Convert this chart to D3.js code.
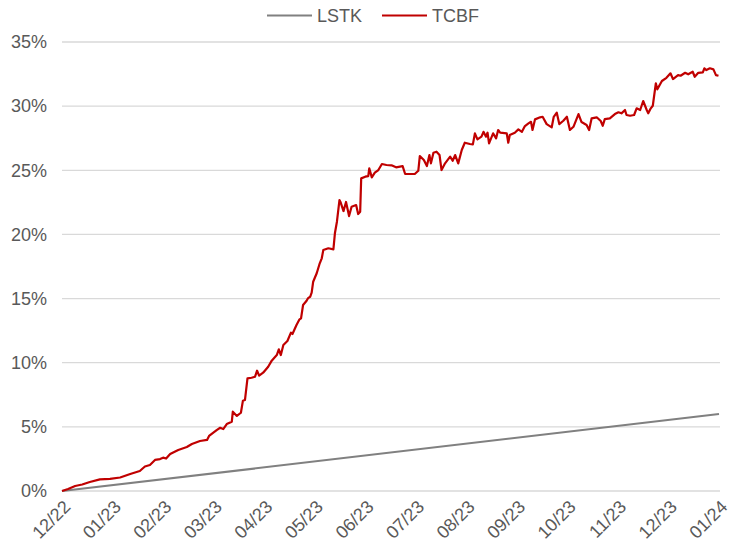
<!DOCTYPE html>
<html>
<head>
<meta charset="utf-8">
<script src="https://cdn.jsdelivr.net/npm/d3@7"></script>
<style>
  html, body { margin: 0; padding: 0; background: #fff; }
  svg text { font-family: "Liberation Sans", Arial, sans-serif; fill: #595959; }
</style>
</head>
<body>
<svg id="chart" width="731" height="548"></svg>
<script>
// ---- Data ----
const monthLabels = ["12/22","01/23","02/23","03/23","04/23","05/23","06/23","07/23","08/23","09/23","10/23","11/23","12/23","01/24"];
const yTicks = [0, 5, 10, 15, 20, 25, 30, 35];
const seriesNames = ["LSTK", "TCBF"];

// LSTK: straight accrual line (position in months from 12/22, value in %)
const lstkT = [0, 13];
const lstkV = [0, 6.0];

// TCBF: position in months from 12/22, cumulative return in %
const tcbfT = [0,0.12,0.26,0.40,0.55,0.75,0.95,1.15,1.35,1.54,1.64,1.74,1.84,1.94,2.00,2.06,2.14,2.30,2.47,2.57,2.73,2.87,2.91,3.06,3.13,3.19,3.26,3.36,3.38,3.46,3.54,3.58,3.62,3.67,3.75,3.82,3.86,3.90,3.98,4.08,4.15,4.25,4.29,4.33,4.38,4.46,4.53,4.56,4.64,4.70,4.73,4.77,4.84,4.87,4.91,4.94,4.97,5.04,5.10,5.14,5.17,5.27,5.37,5.40,5.44,5.49,5.51,5.57,5.62,5.68,5.73,5.82,5.86,5.90,5.92,6.00,6.06,6.08,6.13,6.19,6.26,6.33,6.42,6.52,6.61,6.74,6.79,6.89,6.98,7.05,7.08,7.16,7.22,7.27,7.30,7.35,7.41,7.47,7.51,7.58,7.68,7.73,7.78,7.84,7.91,7.97,8.07,8.13,8.17,8.22,8.30,8.34,8.39,8.42,8.45,8.53,8.59,8.63,8.67,8.80,8.83,8.86,8.96,9.03,9.10,9.16,9.23,9.28,9.31,9.36,9.46,9.51,9.59,9.69,9.73,9.79,9.84,9.92,9.99,10.05,10.12,10.22,10.28,10.38,10.43,10.48,10.58,10.66,10.70,10.74,10.84,10.94,11.01,11.07,11.14,11.17,11.24,11.32,11.37,11.44,11.50,11.57,11.60,11.65,11.69,11.75,11.78,11.87,11.96,12.04,12.09,12.19,12.24,12.33,12.39,12.48,12.52,12.59,12.68,12.71,12.75,12.82,12.89,12.94,12.99];
const tcbfV = [0,0.16,0.39,0.51,0.70,0.91,0.94,1.05,1.33,1.56,1.91,2.03,2.42,2.49,2.60,2.53,2.88,3.20,3.43,3.66,3.90,3.98,4.29,4.75,4.93,4.83,5.22,5.40,6.18,5.85,6.10,7.04,7.09,8.78,8.83,8.91,9.38,8.99,9.22,9.69,10.16,10.60,11.04,10.60,11.38,11.69,12.34,12.24,12.94,13.38,13.46,14.50,14.83,15.04,15.14,15.46,16.31,16.97,17.75,18.14,18.78,18.92,18.84,20.09,20.99,22.68,22.53,21.82,22.53,21.43,22.16,22.29,21.59,21.77,24.37,24.50,24.55,25.15,24.45,24.81,25.02,25.49,25.41,25.39,25.23,25.33,24.71,24.71,24.71,24.96,26.11,25.80,25.33,26.19,25.54,26.37,26.45,26.19,25.02,25.54,26.06,25.74,26.19,25.54,26.58,27.15,27.05,27.02,27.88,27.41,27.62,28.00,27.62,27.93,27.10,27.88,27.49,28.14,27.93,27.88,27.15,27.75,27.93,28.19,28.00,28.45,28.66,28.78,28.14,28.97,29.13,29.17,28.60,28.35,29.17,29.49,28.60,28.86,29.17,28.14,28.39,29.38,28.76,28.53,28.14,29.05,29.13,28.84,28.47,28.99,29.05,29.38,29.52,29.44,29.70,29.31,29.25,29.31,29.83,29.70,30.40,29.70,29.44,29.83,30.03,31.78,31.31,31.96,32.21,32.56,32.11,32.42,32.37,32.60,32.48,32.68,32.29,32.60,32.63,32.95,32.81,32.95,32.87,32.42,32.37];

const colors = { LSTK: "#808080", TCBF: "#C00000" };

// ---- Layout ----
const svg = d3.select("#chart");
const x = d3.scaleLinear().domain([0, monthLabels.length - 1]).range([62, 719]);
const y = d3.scaleLinear().domain([0, 35]).range([491, 42]);

// gridlines
svg.append("g").selectAll("line").data(yTicks).join("line")
  .attr("x1", 62).attr("x2", 720)
  .attr("y1", d => y(d)).attr("y2", d => y(d))
  .attr("stroke", "#D9D9D9").attr("stroke-width", 1.3);

// y axis labels
const yAxis = d3.axisLeft(y).tickValues(yTicks).tickFormat(d => d + "%").tickSize(0).tickPadding(0);
const gy = svg.append("g").attr("transform", "translate(47,0)").call(yAxis);
gy.select(".domain").remove();
gy.selectAll("text").attr("font-size", 18).attr("fill", "#595959")
  .style("font-family", "'Liberation Sans', Arial, sans-serif");

// x axis labels
const xAxis = d3.axisBottom(x).tickValues(d3.range(monthLabels.length)).tickFormat(i => monthLabels[i]).tickSize(0).tickPadding(0);
const gx = svg.append("g").attr("transform", "translate(0,501)").call(xAxis);
gx.select(".domain").remove();
gx.selectAll("text")
  .attr("font-size", 18).attr("fill", "#595959")
  .style("font-family", "'Liberation Sans', Arial, sans-serif")
  .attr("text-anchor", "end")
  .attr("dy", "0.55em")
  .attr("y", 0)
  .attr("transform", "translate(2,0) rotate(-45)");

// lines
const line = d3.line().x(d => x(d[0])).y(d => y(d[1]));
svg.append("path").datum(lstkT.map((t, i) => [t, lstkV[i]]))
  .attr("d", line).attr("fill", "none")
  .attr("stroke", colors.LSTK).attr("stroke-width", 2.2);
svg.append("path").datum(tcbfT.map((t, i) => [t, tcbfV[i]]))
  .attr("d", line).attr("fill", "none")
  .attr("stroke", colors.TCBF).attr("stroke-width", 2.2)
  .attr("stroke-linejoin", "round");

// legend
const legendX = [267, 382];
const leg = svg.append("g");
seriesNames.forEach((n, i) => {
  leg.append("line").attr("x1", legendX[i]).attr("x2", legendX[i] + 45)
    .attr("y1", 15.5).attr("y2", 15.5)
    .attr("stroke", colors[n]).attr("stroke-width", 2.2);
  leg.append("text").attr("x", legendX[i] + 50).attr("y", 22)
    .attr("font-size", 18).text(n);
});
</script>
</body>
</html>
